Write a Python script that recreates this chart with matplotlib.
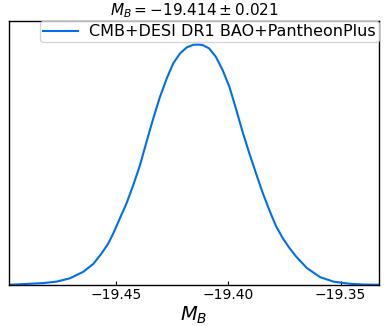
import matplotlib
matplotlib.use("Agg")
import matplotlib.pyplot as plt

# Values (normalised posterior, peak = 1)
mb_values = [-19.4978, -19.4885, -19.4825, -19.4766, -19.4706, -19.4647, -19.4602,
             -19.4565, -19.4536, -19.4513, -19.4484, -19.4454, -19.4424, -19.4394,
             -19.4365, -19.4335, -19.4305, -19.4275, -19.4246, -19.4216, -19.4186,
             -19.4157, -19.4135, -19.4115, -19.4086, -19.4056, -19.4026, -19.3996,
             -19.3967, -19.3937, -19.3907, -19.3877, -19.3848, -19.3818, -19.3788,
             -19.3758, -19.3729, -19.3699, -19.3651, -19.3592, -19.3532, -19.3458,
             -19.3400, -19.3329]
density = [0.001, 0.005, 0.008, 0.014, 0.028, 0.055, 0.088,
           0.132, 0.172, 0.215, 0.277, 0.340, 0.416, 0.499,
           0.596, 0.693, 0.783, 0.859, 0.922, 0.963, 0.988,
           0.999, 1.000, 0.998, 0.984, 0.949, 0.894, 0.825,
           0.735, 0.637, 0.548, 0.464, 0.385, 0.312, 0.245,
           0.195, 0.155, 0.119, 0.071, 0.033, 0.014, 0.005,
           0.002, 0.001]
tick_values = [-19.45, -19.40, -19.35]
tick_labels = ["\u221219.45", "\u221219.40", "\u221219.35"]
series_label = "CMB+DESI DR1 BAO+PantheonPlus"
title_text = r"$M_B = -19.414 \pm 0.021$"
xlabel_text = r"$M_B$"

fig = plt.figure(figsize=(3.88, 3.26), dpi=100)
ax = fig.add_axes([9 / 388, 41 / 326, 370 / 388, 264 / 326])
ax.plot(mb_values, density, color="#006FED", lw=1.5, label=series_label)
ax.set_xlim(-19.4978, -19.3329)
ax.set_ylim(0, 1.098)
ax.set_yticks([])
ax.set_xticks(tick_values)
ax.set_xticklabels(tick_labels)
ax.tick_params(axis="x", direction="in", length=3, width=0.8, labelsize=10, pad=2)
for s in ax.spines.values():
    s.set_linewidth(1.0)
ax.set_xlabel(xlabel_text, fontsize=14, labelpad=2)
ax.set_title(title_text, fontsize=11, pad=4)
leg = ax.legend(loc="upper right", fontsize=11.5, borderaxespad=0, borderpad=0.2,
                handlelength=2.2, handletextpad=0.7, fancybox=True, framealpha=0.8)
fig.savefig("out.png", dpi=100)
